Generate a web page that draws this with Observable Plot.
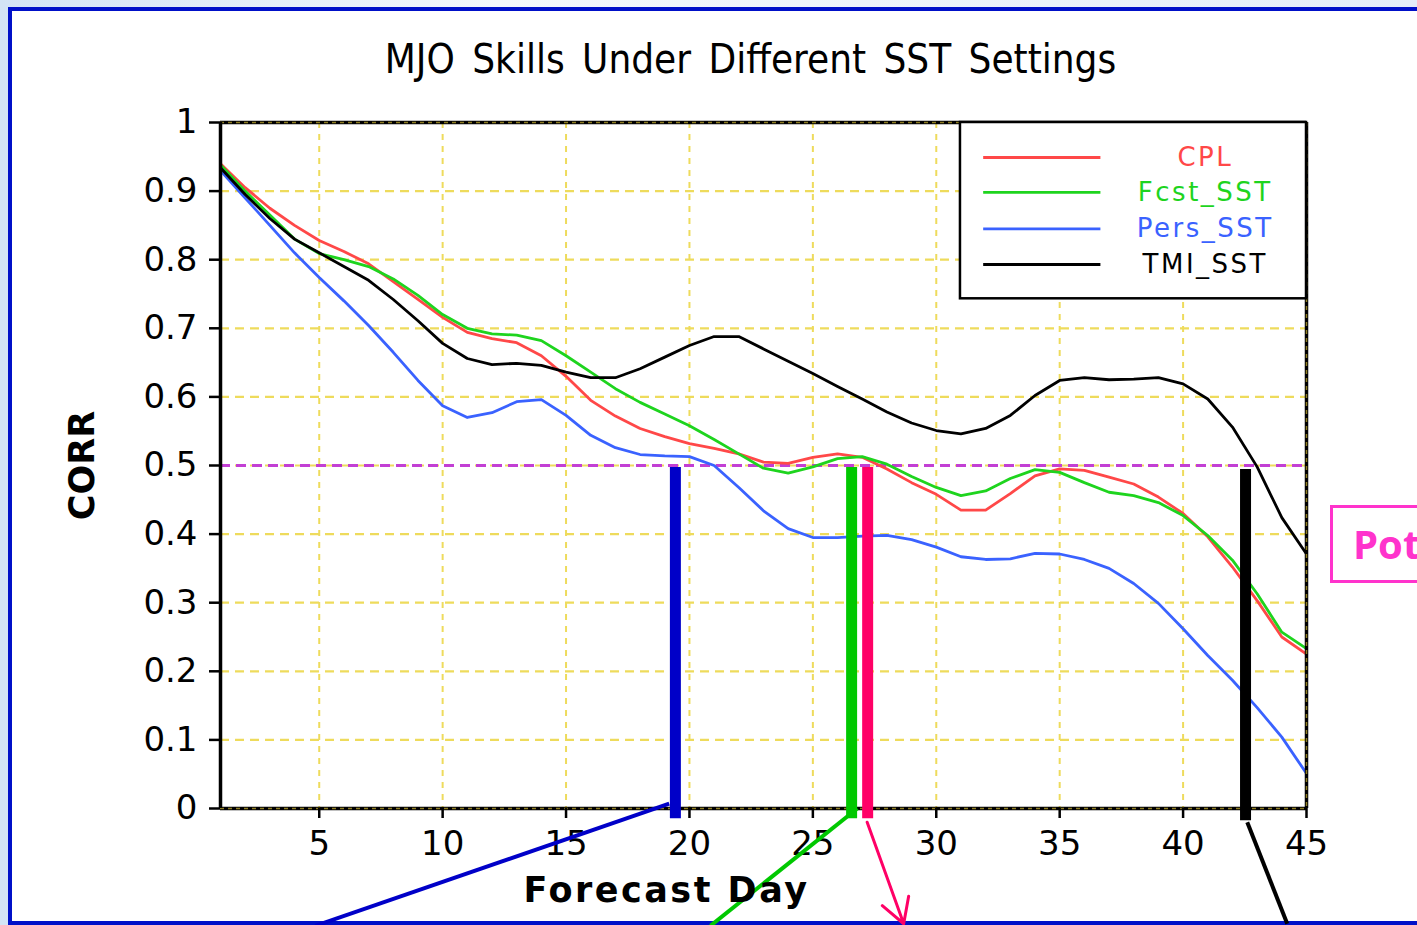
<!DOCTYPE html>
<html><head><meta charset="utf-8">
<script src="https://cdn.jsdelivr.net/npm/d3@7"></script>
<script src="https://cdn.jsdelivr.net/npm/@observablehq/plot@0.6"></script>
<style>
html,body{margin:0;padding:0;width:1417px;height:925px;overflow:hidden;}
#page{position:relative;width:1417px;height:925px;background:linear-gradient(90deg,#d3e4f5,#f3f8fc 35%,#e4eef9);}
#frame{position:absolute;left:8px;top:7px;width:1430px;height:918px;border:4px solid #0010c8;background:#fff;box-sizing:border-box;}
#chart{position:absolute;left:0;top:0;}
#pot{position:absolute;left:1330px;top:505px;width:120px;height:78px;border:3px solid #ff33cc;box-sizing:border-box;font:bold 40px 'Open Sans',sans-serif;color:#ff33cc;padding-left:20px;line-height:72px;background:#fff;}
</style></head>
<body>
<div id="page"><div id="frame"></div><div id="chart"></div><div id="pot">Pot</div></div>
<script>
const days = [1,2,3,4,5,6,7,8,9,10,11,12,13,14,15,16,17,18,19,20,21,22,23,24,25,26,27,28,29,30,31,32,33,34,35,36,37,38,39,40,41,42,43,44,45];
const cpl  = [0.940,0.905,0.875,0.850,0.828,0.812,0.794,0.768,0.742,0.716,0.694,0.685,0.679,0.660,0.630,0.595,0.572,0.554,0.542,0.532,0.525,0.517,0.505,0.503,0.512,0.517,0.512,0.495,0.475,0.458,0.435,0.435,0.459,0.485,0.495,0.493,0.483,0.473,0.454,0.430,0.396,0.352,0.303,0.250,0.225];
const fcst = [0.938,0.900,0.865,0.830,0.809,0.800,0.790,0.772,0.748,0.720,0.700,0.692,0.690,0.682,0.660,0.636,0.612,0.592,0.575,0.558,0.538,0.517,0.496,0.489,0.498,0.510,0.513,0.502,0.484,0.468,0.456,0.463,0.481,0.494,0.490,0.475,0.461,0.456,0.446,0.427,0.398,0.362,0.313,0.257,0.233];
const pers = [0.930,0.890,0.850,0.810,0.774,0.740,0.704,0.665,0.624,0.587,0.570,0.577,0.593,0.596,0.573,0.544,0.526,0.516,0.514,0.513,0.500,0.468,0.434,0.408,0.395,0.395,0.397,0.398,0.392,0.381,0.367,0.363,0.364,0.372,0.371,0.363,0.350,0.328,0.299,0.262,0.223,0.187,0.147,0.104,0.051];
const tmi  = [0.934,0.895,0.860,0.830,0.810,0.790,0.770,0.742,0.711,0.678,0.656,0.647,0.649,0.646,0.636,0.628,0.628,0.641,0.658,0.675,0.688,0.688,0.670,0.652,0.634,0.615,0.597,0.578,0.562,0.551,0.546,0.554,0.573,0.602,0.624,0.628,0.625,0.626,0.628,0.619,0.597,0.556,0.498,0.424,0.371];
const seriesNames  = ["CPL","Fcst_SST","Pers_SST","TMI_SST"];
const seriesColors = ["#ff4848","#1ed41e","#3a62ff","#000000"];
const yTicks = [0,0.1,0.2,0.3,0.4,0.5,0.6,0.7,0.8,0.9,1];
const yTickLabels = ["0","0.1","0.2","0.3","0.4","0.5","0.6","0.7","0.8","0.9","1"];
const xTicks = [5,10,15,20,25,30,35,40,45];
const xTickLabels = ["5","10","15","20","25","30","35","40","45"];
const threshold = 0.5;
const titleText = "MJO Skills Under Different SST Settings";
const xLabel = "Forecast Day";
const yLabel = "CORR";
// annotation: day each run drops below the 0.5 threshold (vertical markers)
const markerDays   = [19.43, 26.57, 27.22, 42.53];
const markerColors = ["#0000c8", "#00c800", "#ff0066", "#000000"];
const markerTop    = [0.497, 0.497, 0.497, 0.494];
const markerBottom = [-0.015, -0.015, -0.015, -0.018];
// pointer lines leaving the markers (start day, start corr, end day, end corr)
const pointerStartDay = [19.18, 26.80, 27.20, 42.60];
const pointerStartVal = [0.007, 0.0, -0.02, -0.02];
const pointerEndDay   = [4.84, 20.85, 28.68, 44.22];
const pointerEndVal   = [-0.171, -0.171, -0.168, -0.168];
// legend placement (in data units)
const legendX = [30.98, 45];
const legendY = [0.743, 1.0];
const legendLineX = [31.9, 36.65];
const legendTextX = 40.9;
const legendRowY = [0.949, 0.898, 0.845, 0.793];

const seriesValues = [cpl, fcst, pers, tmi];
const rows = [];
seriesNames.forEach((n, k) => days.forEach((d, i) => rows.push({series: n, day: d, value: seriesValues[k][i]})));
const legendItems = seriesNames.map((n, k) => ({name: n, y: legendRowY[k]}));
const yLabMap = new Map(yTicks.map((t, i) => [t, yTickLabels[i]]));
const xLabMap = new Map(xTicks.map((t, i) => [t, xTickLabels[i]]));

const markerMarks = markerDays.map((d, k) =>
  Plot.ruleX([d], {x: v => v, y1: markerBottom[k], y2: markerTop[k], stroke: markerColors[k], strokeWidth: 11}));
const pointerMarks = pointerStartDay.map((d, k) => {
  const datum = [{x1: d, y1: pointerStartVal[k], x2: pointerEndDay[k], y2: pointerEndVal[k]}];
  return k === 2
    ? Plot.arrow(datum, {x1: "x1", y1: "y1", x2: "x2", y2: "y2", stroke: markerColors[k], strokeWidth: 3, headLength: 14, bend: 0})
    : Plot.link(datum, {x1: "x1", y1: "y1", x2: "x2", y2: "y2", stroke: markerColors[k], strokeWidth: 4});
});

const chart = Plot.plot({
  width: 1417, height: 925,
  marginLeft: 220, marginRight: 111, marginTop: 122, marginBottom: 117,
  style: {background: "transparent", overflow: "visible", fontFamily: "DejaVu Sans", fontSize: "34px", color: "#000"},
  x: {domain: [1, 45]},
  y: {domain: [0, 1]},
  color: {domain: seriesNames, range: seriesColors},
  marks: [
    Plot.gridX(xTicks.slice(0, -1), {stroke: "#eedb5c", strokeOpacity: 1, strokeWidth: 2, strokeDasharray: "6,6"}),
    Plot.gridY(yTicks.filter(t => t > 0 && t < 1), {stroke: "#eedb5c", strokeOpacity: 1, strokeWidth: 2.2, strokeDasharray: "9,6"}),
    Plot.ruleY([threshold], {stroke: "#c23fd4", strokeWidth: 3, strokeDasharray: "10,6"}),
    Plot.line(rows, {x: "day", y: "value", z: "series", stroke: "series", strokeWidth: 2.8}),
    Plot.ruleY([0, 1], {stroke: "#000", strokeWidth: 3.5}),
    Plot.ruleY([0, 1], {stroke: "#8d7c22", strokeWidth: 1.5, strokeDasharray: "4,4"}),
    Plot.ruleX([45], {stroke: "#000", strokeWidth: 3.5}),
    Plot.ruleX([45], {stroke: "#8d7c22", strokeWidth: 1.5, strokeDasharray: "4,4"}),
    Plot.ruleX([1], {stroke: "#000", strokeWidth: 3.5}),
    Plot.axisY(yTicks, {tickSize: 11, tickPadding: 12, tickFormat: t => yLabMap.get(t), strokeWidth: 2.5, fontSize: 34, label: null}),
    Plot.axisX(xTicks, {tickSize: 10, tickPadding: 12, tickFormat: t => xLabMap.get(t), strokeWidth: 2.5, fontSize: 34, label: null}),
    Plot.rect([{}], {x1: legendX[0], x2: legendX[1], y1: legendY[0], y2: legendY[1], fill: "#fff", stroke: "#000", strokeWidth: 2.5}),
    Plot.link(legendItems, {x1: legendLineX[0], x2: legendLineX[1], y1: "y", y2: "y", stroke: "name", strokeWidth: 2.8}),
    Plot.text(legendItems, {x: legendTextX, y: "y", text: "name", fill: "name", fontSize: 26, fontFamily: "DejaVu Sans"}),
    ...markerMarks,
    ...pointerMarks,
    Plot.text([titleText], {text: d => d, frameAnchor: "top", lineAnchor: "middle", dy: -62, dx: -13, fontSize: 40, fontFamily: "Liberation Sans Narrow, DejaVu Sans Condensed, sans-serif"}),
    Plot.text([xLabel], {text: d => d, frameAnchor: "bottom", lineAnchor: "middle", dy: 82, dx: -97, fontSize: 35, fontWeight: "bold", fontFamily: "DejaVu Sans"}),
    Plot.text([yLabel], {text: d => d, frameAnchor: "left", textAnchor: "middle", lineAnchor: "middle", dx: -138, rotate: -90, fontSize: 35, fontWeight: "bold", fontFamily: "DejaVu Sans"})
  ]
});
document.getElementById("chart").appendChild(chart);
d3.select(chart).selectAll("text").filter(function(){return this.textContent === xLabel;}).attr("letter-spacing", 2.5);
d3.select(chart).selectAll("text").filter(function(){return seriesNames.includes(this.textContent);}).attr("letter-spacing", 2.5);
d3.select(chart).selectAll("text").filter(function(){return this.textContent === titleText;}).attr("word-spacing", 6);
</script>
</body></html>
